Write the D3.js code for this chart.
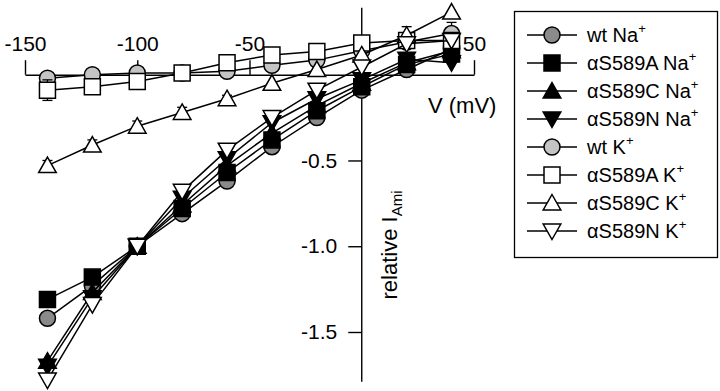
<!DOCTYPE html>
<html><head><meta charset="utf-8">
<script src="https://cdn.jsdelivr.net/npm/d3@7"></script>
<style>body{margin:0;background:#fff}svg{display:block}text{font-family:"Liberation Sans",Arial,sans-serif;fill:#000}</style>
</head><body>
<svg id="c" width="720" height="391"></svg>
<script>
// ---- data ----
const voltages = [-140,-120,-100,-80,-60,-40,-20,0,20,40];
const wtNa   = [-1.42,-1.23,-1.00,-0.81,-0.62,-0.42,-0.25,-0.09,0.03,0.15];
const aS589A_Na = [-1.31,-1.18,-1.00,-0.78,-0.57,-0.38,-0.21,-0.07,0.06,0.12];
const aS589C_Na = [-1.67,-1.27,-1.00,-0.76,-0.53,-0.34,-0.18,-0.05,0.07,0.14];
const aS589N_Na = [-1.70,-1.30,-1.00,-0.72,-0.49,-0.28,-0.14,-0.03,0.09,0.07];
const wtK    = [-0.02,0.00,0.01,0.01,0.02,0.055,0.085,0.14,0.19,0.24];
const aS589A_K = [-0.09,-0.07,-0.04,0.01,0.07,0.115,0.135,0.185,0.20,0.20];
const aS589C_K = [-0.53,-0.41,-0.30,-0.22,-0.14,-0.05,0.03,0.115,0.23,0.365];
const aS589N_K = [-1.78,-1.34,-1.00,-0.68,-0.44,-0.25,-0.09,0.045,0.18,0.20];
const errWtK   = [0,0,0,0,0,0,0,0,0,0.065];
const errA_K   = [0.06,0,0,0,0,0,0,0,0,0];
const errC_K   = [0.03,0.03,0.03,0.03,0.02,0,0,0,0.05,0];
const zeros    = [0,0,0,0,0,0,0,0,0,0];
const seriesNames = ["wt Na","\u03b1S589A Na","\u03b1S589C Na","\u03b1S589N Na","wt K","\u03b1S589A K","\u03b1S589C K","\u03b1S589N K"];
const xTicks = [-150,-100,-50,50];
const xTickLabels = ["-150","-100","-50","50"];
const yTicks = [-0.5,-1.0,-1.5];
const yTickLabels = ["-0.5","-1.0","-1.5"];

const seriesValues = [wtNa,aS589A_Na,aS589C_Na,aS589N_Na,wtK,aS589A_K,aS589C_K,aS589N_K];
const seriesErr = [zeros,zeros,zeros,zeros,errWtK,errA_K,errC_K,zeros];
const styles = [
  {shape:"circle", fill:"#8a8a8a"},
  {shape:"square", fill:"#000"},
  {shape:"up", fill:"#000"},
  {shape:"down", fill:"#000"},
  {shape:"circle", fill:"#c4c4c4"},
  {shape:"square", fill:"#fff"},
  {shape:"up", fill:"#fff"},
  {shape:"down", fill:"#fff"}
];

const svg = d3.select("#c");
const x = d3.scaleLinear().domain([-150,50]).range([25,474]);
const y = d3.scaleLinear().domain([0,-1.5]).range([74.7,332]);

function markerPath(shape){
  if(shape==="circle") return d3.symbol().type(d3.symbolCircle).size(Math.PI*8*8)();
  if(shape==="square") return "M-8,-8H8V8H-8Z";
  if(shape==="up") return "M0,-8.5L8.8,7L-8.8,7Z";
  return "M0,8.5L8.8,-7L-8.8,-7Z";
}

// axes
const gx = svg.append("g").attr("transform",`translate(0,${y(0)})`)
  .call(d3.axisTop(x).tickValues(xTicks).tickSize(14.5).tickSizeOuter(0).tickPadding(9)
    .tickFormat((d,i)=>xTickLabels[i]));
gx.selectAll("text").style("font-size","21px").attr("font-family",null);
gx.selectAll("line,path").attr("stroke","#000").attr("stroke-width",1.4);

const gy = svg.append("g").attr("transform",`translate(${x(0)},0)`)
  .call(d3.axisLeft(y).tickValues(yTicks).tickSize(13.5).tickPadding(11)
    .tickFormat((d,i)=>yTickLabels[i]));
gy.select(".domain").remove();
gy.selectAll("text").style("font-size","21px").attr("font-family",null);
gy.selectAll("line").attr("stroke","#000").attr("stroke-width",1.4);
svg.append("line").attr("x1",x(0)).attr("x2",x(0)).attr("y1",y(0.39)).attr("y2",y(-1.79))
  .attr("stroke","#000").attr("stroke-width",1.4);

// axis titles
svg.append("text").attr("x",428).attr("y",113).style("font-size","22px").text("V (mV)");
const yl = svg.append("text").attr("transform","translate(397,245) rotate(-90)")
  .attr("text-anchor","middle").style("font-size","22px");
yl.append("tspan").text("relative I");
yl.append("tspan").attr("dy",5).style("font-size","15px").text("Ami");

// series
const line = d3.line().x(d=>x(d.v)).y(d=>y(d.i));
seriesValues.forEach((vals,k)=>{
  const pts = voltages.map((v,j)=>({v, i:vals[j], e:seriesErr[k][j]}));
  const g = svg.append("g");
  g.append("path").datum(pts).attr("d",line).attr("fill","none").attr("stroke","#000").attr("stroke-width",1.5);
  const eb = g.selectAll(".eb").data(pts.filter(p=>p.e>0)).join("g");
  eb.append("line").attr("x1",p=>x(p.v)).attr("x2",p=>x(p.v)).attr("y1",p=>y(p.i-p.e)).attr("y2",p=>y(p.i+p.e)).attr("stroke","#000").attr("stroke-width",1.3);
  eb.append("line").attr("x1",p=>x(p.v)-5).attr("x2",p=>x(p.v)+5).attr("y1",p=>y(p.i-p.e)).attr("y2",p=>y(p.i-p.e)).attr("stroke","#000").attr("stroke-width",1.3);
  eb.append("line").attr("x1",p=>x(p.v)-5).attr("x2",p=>x(p.v)+5).attr("y1",p=>y(p.i+p.e)).attr("y2",p=>y(p.i+p.e)).attr("stroke","#000").attr("stroke-width",1.3);
  g.selectAll(".m").data(pts).join("path").attr("d",markerPath(styles[k].shape))
    .attr("transform",p=>`translate(${x(p.v)},${y(p.i)})`)
    .attr("fill",styles[k].fill).attr("stroke","#000").attr("stroke-width",1.5);
});

// legend
const lg = svg.append("g");
lg.append("rect").attr("x",514.5).attr("y",11.5).attr("width",203).attr("height",246).attr("fill","#fff").attr("stroke","#000").attr("stroke-width",1.3);
seriesNames.forEach((name,k)=>{
  const cy = 35 + k*28;
  lg.append("line").attr("x1",527).attr("x2",577).attr("y1",cy).attr("y2",cy).attr("stroke","#000").attr("stroke-width",1.5);
  lg.append("path").attr("d",markerPath(styles[k].shape)).attr("transform",`translate(552,${cy})`)
    .attr("fill",styles[k].fill).attr("stroke","#000").attr("stroke-width",1.5);
  const t = lg.append("text").attr("x",587).attr("y",cy+7).style("font-size","20px");
  t.append("tspan").text(name);
  t.append("tspan").attr("dy",-9).style("font-size","13px").text("+");
});
</script>
</body></html>
